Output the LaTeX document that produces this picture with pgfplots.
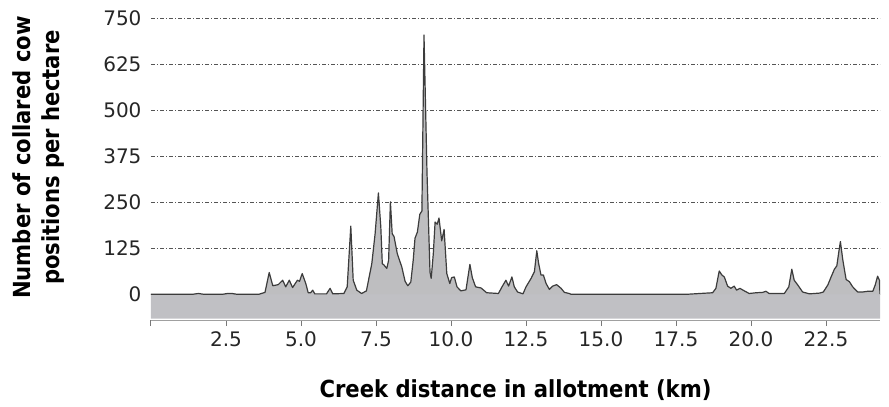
\documentclass[border=0pt]{standalone}
\usepackage{pgfplots}
\pgfplotsset{compat=1.18}
\usepackage{fontspec}
\setmainfont{DejaVu Sans}
\newfontfamily\labelfont{DejaVu Sans Condensed}

\definecolor{areagray}{RGB}{190,190,192}
\definecolor{bandgray}{RGB}{192,192,196}
\definecolor{outline}{RGB}{60,60,60}
\definecolor{gridgray}{RGB}{85,85,85}
\definecolor{linegray}{RGB}{120,120,120}

\begin{document}
\begin{tikzpicture}
\begin{axis}[
    at={(151pt,87pt)}, anchor=south west,
    scale only axis,
    width=729pt, height=302pt,
    xmin=0, xmax=24.3,
    ymin=-70, ymax=750,
    axis line style={draw=none},
    xtick pos=bottom, ytick pos=left,
    xtick={0,2.5,5,7.5,10,12.5,15,17.5,20,22.5},
    xticklabels={{},2.5,5.0,7.5,10.0,12.5,15.0,17.5,20.0,22.5},
    ytick={0,125,250,375,500,625,750},
    tick align=outside,
    major tick length=6pt,
    every x tick/.style={linegray, line width=1pt},
    every y tick/.style={draw=none},
    ymajorgrids,
    grid style={gridgray, line width=0.8pt, dash pattern=on 4pt off 2pt on 1pt off 2pt},
    /pgf/number format/assume math mode=true,
    tick label style={font=\fontsize{20}{24}\selectfont, text=black!85},
    xticklabel style={yshift=-2pt},
    xlabel={Creek distance in allotment (km)},
    xlabel style={at={(axis description cs:0.5,0)}, anchor=center, yshift=-70pt,
        font=\labelfont\bfseries\fontsize{23.5}{28}\selectfont},
    ylabel={Number of collared cow\\positions per hectare},
    ylabel style={at={(axis description cs:0,0.538)}, anchor=center, yshift=112pt,
        align=center, font=\labelfont\bfseries\fontsize{23.5}{29}\selectfont},
]

% band below zero
\addplot[fill=bandgray, draw=none] coordinates {
    (0,0) (24.3,0) (24.3,-66) (0,-66) (0,0)
};

% cow positions per hectare
\addplot[fill=areagray, draw=none] coordinates {
    (0,0) (1.4,0) (1.58,2) (1.75,0) (2.4,0) (2.55,2) (2.7,2) (2.85,0)
    (3.6,0) (3.8,5) (3.94,59) (4.06,23) (4.24,26) (4.39,38) (4.49,20)
    (4.61,38) (4.72,18) (4.88,38) (4.95,35) (5.04,56) (5.16,29) (5.24,4)
    (5.32,4) (5.39,11) (5.46,1) (5.85,1) (5.97,16) (6.06,1) (6.43,2)
    (6.54,20) (6.66,185) (6.74,38) (6.86,11) (7.02,2) (7.18,9) (7.36,83)
    (7.47,164) (7.58,275) (7.66,183) (7.71,83) (7.77,79) (7.86,70) (7.92,92)
    (7.98,251) (8.04,164) (8.1,157) (8.21,110) (8.36,74) (8.47,35) (8.56,23)
    (8.66,33) (8.74,92) (8.8,152) (8.88,169) (8.96,217) (9.03,226) (9.1,704)
    (9.2,330) (9.3,60) (9.34,43) (9.41,110) (9.47,196) (9.54,190) (9.6,207)
    (9.69,145) (9.77,176) (9.86,56) (9.96,29) (10.02,45) (10.11,47) (10.2,20)
    (10.33,9) (10.5,12) (10.63,81) (10.71,45) (10.82,20) (11.0,17) (11.19,4)
    (11.58,2) (11.7,20) (11.83,38) (11.92,22) (12.03,47) (12.11,20) (12.22,6)
    (12.4,1) (12.5,20) (12.67,43) (12.78,61) (12.86,118) (12.92,84) (13.0,52)
    (13.08,52) (13.17,29) (13.28,13) (13.39,22) (13.52,26) (13.67,16) (13.78,5)
    (13.94,2) (14.0,0) (17.9,0) (18.3,2) (18.72,4) (18.83,16) (18.94,63)
    (19.03,52) (19.11,47) (19.22,22) (19.33,16) (19.44,22) (19.52,11) (19.63,16)
    (19.78,9) (19.94,2) (20.17,4) (20.39,5) (20.5,8) (20.6,2) (21.11,2)
    (21.26,20) (21.36,68) (21.44,38) (21.56,25) (21.72,6) (21.95,1) (22.28,3)
    (22.41,6) (22.56,25) (22.67,47) (22.78,68) (22.86,77) (22.92,111) (22.98,143)
    (23.06,93) (23.17,40) (23.28,34) (23.39,20) (23.56,6) (23.72,6) (23.89,8)
    (24.06,8) (24.14,25) (24.22,49) (24.28,38) (24.3,0)
};
\addplot[draw=outline, line width=1.2pt, line join=round] coordinates {
    (0,0) (1.4,0) (1.58,2) (1.75,0) (2.4,0) (2.55,2) (2.7,2) (2.85,0)
    (3.6,0) (3.8,5) (3.94,59) (4.06,23) (4.24,26) (4.39,38) (4.49,20)
    (4.61,38) (4.72,18) (4.88,38) (4.95,35) (5.04,56) (5.16,29) (5.24,4)
    (5.32,4) (5.39,11) (5.46,1) (5.85,1) (5.97,16) (6.06,1) (6.43,2)
    (6.54,20) (6.66,185) (6.74,38) (6.86,11) (7.02,2) (7.18,9) (7.36,83)
    (7.47,164) (7.58,275) (7.66,183) (7.71,83) (7.77,79) (7.86,70) (7.92,92)
    (7.98,251) (8.04,164) (8.1,157) (8.21,110) (8.36,74) (8.47,35) (8.56,23)
    (8.66,33) (8.74,92) (8.8,152) (8.88,169) (8.96,217) (9.03,226) (9.1,704)
    (9.2,330) (9.3,60) (9.34,43) (9.41,110) (9.47,196) (9.54,190) (9.6,207)
    (9.69,145) (9.77,176) (9.86,56) (9.96,29) (10.02,45) (10.11,47) (10.2,20)
    (10.33,9) (10.5,12) (10.63,81) (10.71,45) (10.82,20) (11.0,17) (11.19,4)
    (11.58,2) (11.7,20) (11.83,38) (11.92,22) (12.03,47) (12.11,20) (12.22,6)
    (12.4,1) (12.5,20) (12.67,43) (12.78,61) (12.86,118) (12.92,84) (13.0,52)
    (13.08,52) (13.17,29) (13.28,13) (13.39,22) (13.52,26) (13.67,16) (13.78,5)
    (13.94,2) (14.0,0) (17.9,0) (18.3,2) (18.72,4) (18.83,16) (18.94,63)
    (19.03,52) (19.11,47) (19.22,22) (19.33,16) (19.44,22) (19.52,11) (19.63,16)
    (19.78,9) (19.94,2) (20.17,4) (20.39,5) (20.5,8) (20.6,2) (21.11,2)
    (21.26,20) (21.36,68) (21.44,38) (21.56,25) (21.72,6) (21.95,1) (22.28,3)
    (22.41,6) (22.56,25) (22.67,47) (22.78,68) (22.86,77) (22.92,111) (22.98,143)
    (23.06,93) (23.17,40) (23.28,34) (23.39,20) (23.56,6) (23.72,6) (23.89,8)
    (24.06,8) (24.14,25) (24.22,49) (24.28,38) (24.3,0)
};
% bottom axis line
\draw[linegray!70, line width=1pt] (rel axis cs:0,0) -- (rel axis cs:1,0);
\end{axis}
\pgfresetboundingbox
\useasboundingbox (0,0) rectangle (889pt,407pt);
\end{tikzpicture}
\end{document}
